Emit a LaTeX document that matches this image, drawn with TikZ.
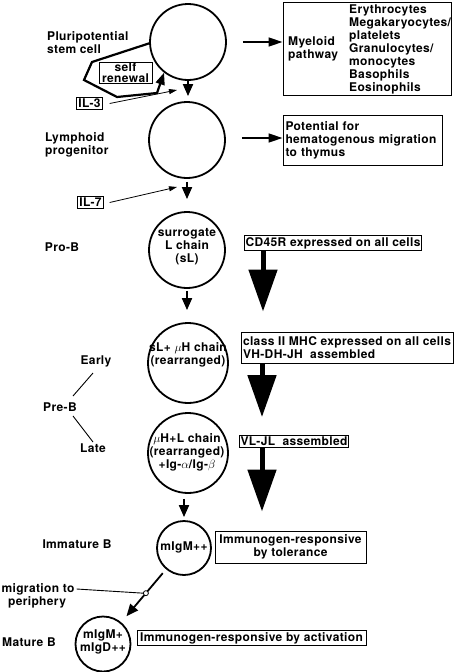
\documentclass[tikz,border=0pt]{standalone}
\usepackage{fontspec}
\setmainfont{TeX Gyre Heros}[LetterSpace=3]
\usetikzlibrary{arrows.meta,calc}
\begin{document}
\begin{tikzpicture}[x=1pt,y=-1pt,
  font=\bfseries\fontsize{12}{13}\selectfont,
  cell/.style={draw, circle, line width=1.8pt, inner sep=0pt},
  celltext/.style={inner sep=0pt, align=center},
  lbl/.style={inner sep=0pt, align=left},
  infobox/.style={draw, line width=1pt, inner sep=1.5pt, align=left},
  smallarrow/.style={line width=1.8pt, -{Triangle[length=12pt,width=10pt]}},
  thinarrow/.style={line width=0.8pt, -{Triangle[length=8pt,width=5pt]}},
  sidearrow/.style={line width=1.5pt, -{Triangle[length=14pt,width=9pt]}},
  bigarrow/.style={line width=5pt, -{Triangle[length=42pt,width=28pt]}},
  thinline/.style={line width=0.9pt}
]
\useasboundingbox (0,0) rectangle (455,672);

% cells
\node[cell, minimum size=76pt] (c1) at (188,42) {};
\node[cell, minimum size=76pt] (c2) at (187,140) {};
\node[cell, minimum size=76pt] (c3) at (187,250) {};
\node[celltext] (c3t) at (187,247) {surrogate\\L chain\\(sL)};
\node[cell, minimum size=80pt] (c4) at (188,363) {};
\node[celltext] (c4t) at (188,355) {sL+ $\mu$H chain\\(rearranged)};
\node[cell, minimum size=80pt] (c5) at (188,453) {};
\node[celltext] (c5t) at (187,452) {$\mu$H+L chain\\(rearranged)\\+Ig-$\alpha$/Ig-$\beta$};
\node[cell, minimum size=54pt] (c6) at (184,548) {};
\node[celltext] (c6t) at (184,547) {mIgM++};
\node[cell, minimum size=55pt] (c7) at (103,644) {};
\node[celltext] (c7t) at (103,642) {mIgM+\\mIgD++};

% left labels
\node[lbl, anchor=west] (l1) at (47,43) {Pluripotential\\stem cell};
\node[lbl, anchor=west] (l2) at (45,145) {Lymphoid\\progenitor};
\node[lbl] (l3) at (62,247) {Pro-B};
\node[lbl] (early) at (96,361) {Early};
\node[lbl] (preb) at (60,407) {Pre-B};
\node[lbl] (late) at (93,448) {Late};
\node[lbl] (imm) at (77,544) {Immature B};
\node[lbl] (mat) at (29,642) {Mature B};
\coordinate (e1) at (93,373);
\coordinate (e2) at (73,396);
\coordinate (e3) at (73,416);
\coordinate (e4) at (93,442);
\draw[thinline] (e1) -- (e2);
\draw[thinline] (e3) -- (e4);

% self renewal
\node[draw, line width=1pt, inner sep=0pt, minimum width=53pt, minimum height=21pt,
      align=center, font=\bfseries\fontsize{12}{11.5}\selectfont] (self) at (125.5,72.5) {self\\renewal};
\draw[line width=2.2pt, line join=miter, -{Triangle[length=12pt,width=9pt]}]
  (c1.182) -- (92,62) -- (84,80) -- (117,97) -- (157,93) -- (c1.232);

% interleukins
\node[infobox] (il3) at (89.5,103.5) {IL-3};
\coordinate (il3e) at (177,90);
\draw[thinarrow] ([xshift=7pt]il3.east) -- (il3e);
\node[infobox] (il7) at (90.5,202.5) {IL-7};
\coordinate (il7e) at (177,187);
\draw[thinarrow] ([xshift=6pt]il7.east) -- (il7e);

% vertical small arrows
\draw[smallarrow, shorten >=5pt] (c1.south) -- (c1.south |- c2.north);
\draw[smallarrow, shorten <=3pt, shorten >=12pt] (c2.south) -- (c2.south |- c3.north);
\draw[smallarrow, shorten <=2pt, shorten >=12pt] (c3.south) -- (c3.south |- c4.north);
\draw[smallarrow, shorten <=5pt, shorten >=3pt] (c6.north |- c5.south) -- (c6.north);
\draw[smallarrow, shorten <=5pt, shorten >=8pt] (c6) -- (c7)
  node[pos=0.45, circle, draw, fill=white, inner sep=0pt, minimum size=5pt, line width=0.8pt] (mig) {};
\node[lbl] (migtxt) at (38,589) {migration to};
\node[lbl] (migtxt2) at (37,602) {periphery};
\draw[thinline] ([xshift=2pt]migtxt.east) -- (mig.west);

% myeloid
\node[draw, line width=1pt, minimum width=168pt, minimum height=93pt, inner sep=0pt] (myel) at (367,48.5) {};
\node[lbl, anchor=west] (myelp) at (288,49) {Myeloid\\pathway};
\node[lbl, anchor=west] (myell) at (349,49) {Erythrocytes\\Megakaryocytes/\\platelets\\Granulocytes/\\monocytes\\Basophils\\Eosinophils};
\draw[sidearrow] ([xshift=16pt]c1.east) -- (c1.east -| myel.west);

% potential
\node[infobox, minimum width=159pt, minimum height=50pt, text width=154pt] (pot) at (362.5,140) {Potential for\\hematogenous migration\\to thymus};
\draw[sidearrow] ([xshift=16pt,yshift=2pt]c2.east) -- ([yshift=2pt]c2.east -| pot.west);

% right column
\node[infobox] (cd45) at (333,243) {CD45R expressed on all cells};
\node[infobox, minimum width=212pt, minimum height=31pt] (cls) at (347,347.5) {class II MHC expressed on all cells\\VH-DH-JH\ \ assembled};
\node[infobox] (vl) at (294,441.5) {VL-JL\ \ assembled};
\node[infobox, align=center, minimum width=151pt, minimum height=32pt] (tol) at (290.5,547) {Immunogen-responsive\\by tolerance};
\node[infobox, minimum width=229pt] (act) at (251.5,638) {Immunogen-responsive by activation};

\coordinate (bx) at (263,0);
\coordinate (bx2) at (262,0);
\draw[bigarrow, shorten >=20pt] (cd45.south -| bx) -- (cls.north -| bx);
\draw[bigarrow, shorten >=18pt] (cls.south -| bx2) -- (vl.north -| bx2);
\draw[bigarrow, shorten >=19pt] (vl.south -| bx2) -- (tol.north -| bx2);
\end{tikzpicture}
\end{document}
